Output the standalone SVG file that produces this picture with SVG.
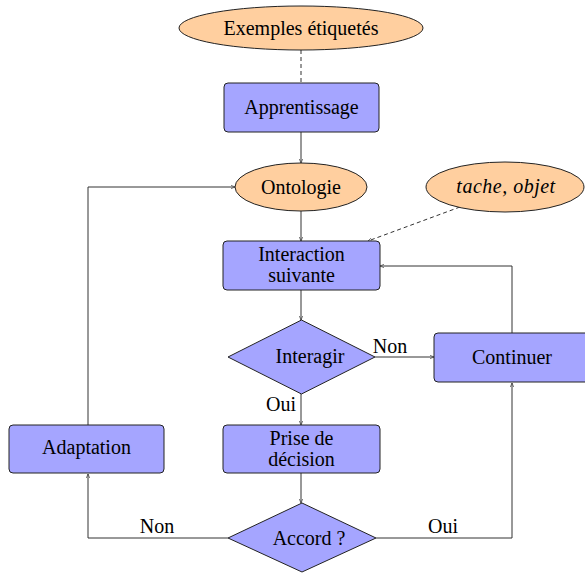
<svg xmlns="http://www.w3.org/2000/svg" width="585" height="574" viewBox="0 0 585 574">
<style>
.box{fill:#a5a5ff;stroke:#222;stroke-width:1}
.ell{fill:#ffcf9f;stroke:#222;stroke-width:1}
.t{font-family:"Liberation Serif","Times New Roman",serif;font-size:20px;fill:#000;text-anchor:middle}
.ti{font-style:italic;letter-spacing:0.5px}
.e{fill:none;stroke:#333;stroke-width:1}
.d{stroke-dasharray:4 3}
</style>
<defs>
<marker id="a" viewBox="0 0 8 8" refX="7" refY="4" markerWidth="5" markerHeight="5" orient="auto" markerUnits="userSpaceOnUse">
<path d="M0,1 L7,4 L0,7" fill="none" stroke="#333" stroke-width="1"/>
</marker>
</defs>
<rect width="585" height="574" fill="#fff"/>
<g id="connectors">
<path class="e d" d="M301,50 V83"/>
<path class="e" d="M301,132 V163" marker-end="url(#a)"/>
<path class="e" d="M301,211 V241" marker-end="url(#a)"/>
<path class="e d" d="M460,207 L368,241" marker-end="url(#a)"/>
<path class="e" d="M301,290 V320" marker-end="url(#a)"/>
<path class="e" d="M375,357 H434" marker-end="url(#a)"/>
<path class="e" d="M512,333 V266 H380" marker-end="url(#a)"/>
<path class="e" d="M301,394 V425" marker-end="url(#a)"/>
<path class="e" d="M301,473 V503" marker-end="url(#a)"/>
<path class="e" d="M228,538 H88 V474" marker-end="url(#a)"/>
<path class="e" d="M376,538 H512 V383" marker-end="url(#a)"/>
<path class="e" d="M88,425 V187 H235" marker-end="url(#a)"/>
<text class="t" x="390" y="353">Non</text>
<text class="t" x="281" y="411">Oui</text>
<text class="t" x="157" y="533">Non</text>
<text class="t" x="443" y="533">Oui</text>
</g>
<g id="exemples">
<ellipse class="ell" cx="301" cy="28" rx="122" ry="22"/>
<text class="t" x="301" y="35">Exemples étiquetés</text>
</g>
<g id="apprentissage">
<rect class="box" x="224" y="83" width="155" height="49" rx="4"/>
<text class="t" x="301.5" y="114">Apprentissage</text>
</g>
<g id="ontologie">
<ellipse class="ell" cx="301" cy="187" rx="66" ry="24"/>
<text class="t" x="301" y="194">Ontologie</text>
</g>
<g id="tache">
<ellipse class="ell" cx="505" cy="187" rx="79" ry="25"/>
<text class="t ti" x="506" y="193">tache, objet</text>
</g>
<g id="interaction">
<rect class="box" x="223" y="241" width="157" height="49" rx="4"/>
<text class="t" x="301.5" y="261">Interaction</text>
<text class="t" x="301.5" y="282">suivante</text>
</g>
<g id="interagir">
<polygon class="box" points="301.5,320 375,357 301.5,394 228,357"/>
<text class="t" x="310" y="363">Interagir</text>
</g>
<g id="continuer">
<rect class="box" x="434" y="333" width="156" height="49" rx="4"/>
<text class="t" x="512" y="364">Continuer</text>
</g>
<g id="prise">
<rect class="box" x="223" y="425" width="157" height="48" rx="4"/>
<text class="t" x="301.5" y="445">Prise de</text>
<text class="t" x="301.5" y="466">décision</text>
</g>
<g id="adaptation">
<rect class="box" x="9" y="425" width="155" height="48" rx="4"/>
<text class="t" x="86.5" y="454">Adaptation</text>
</g>
<g id="accord">
<polygon class="box" points="302,503 376,538 302,572 228,538"/>
<text class="t" x="309" y="545">Accord ?</text>
</g>
</svg>
